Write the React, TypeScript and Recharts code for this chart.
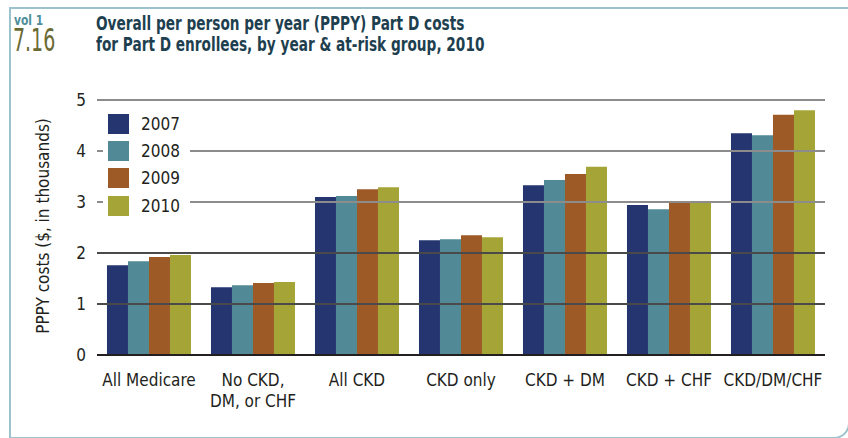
import { BarChart, Bar, XAxis, YAxis, ReferenceLine } from "recharts";

const groups = ["All Medicare", "No CKD,\nDM, or CHF", "All CKD", "CKD only", "CKD + DM", "CKD + CHF", "CKD/DM/CHF"];
const years = ["2007", "2008", "2009", "2010"];
const v2007 = [1.76, 1.33, 3.10, 2.25, 3.33, 2.94, 4.35];
const v2008 = [1.84, 1.37, 3.12, 2.27, 3.43, 2.86, 4.31];
const v2009 = [1.92, 1.41, 3.25, 2.35, 3.55, 3.00, 4.71];
const v2010 = [1.96, 1.43, 3.29, 2.31, 3.69, 3.02, 4.80];
const yTicks = [0, 1, 2, 3, 4, 5];

const colors = ["#25356f", "#518996", "#9e5a26", "#a5a437"];
const font = "'DejaVu Sans Condensed', 'Liberation Sans Narrow', sans-serif";

const data = groups.map((g, i) => ({
  group: g,
  "2007": v2007[i],
  "2008": v2008[i],
  "2009": v2009[i],
  "2010": v2010[i],
}));

function GroupTick(props: any) {
  const { x, y, payload } = props;
  const lines = String(payload.value).split("\n");
  return (
    <text x={x} y={y + 23} textAnchor="middle" fill="#231f20" fontSize={17} fontFamily={font}>
      {lines.map((l, i) => (
        <tspan key={i} x={x} dy={i === 0 ? 0 : 21}>{l}</tspan>
      ))}
    </text>
  );
}

export default function App() {
  return (
    <div style={{ position: "absolute", left: 0, top: 0, width: 848, height: 438, overflow: "hidden", background: "#fff" }}>
      <div style={{
        position: "absolute", left: 9, top: 7, width: 841, height: 432, boxSizing: "border-box",
        border: "2px solid #9cc3cc", borderBottomRightRadius: 16,
      }} />
      <div style={{
        position: "absolute", left: 14, top: 13, fontFamily: font, fontSize: 14, color: "#4f8f9c", lineHeight: "14px",
        transform: "scaleX(0.85)", transformOrigin: "left top", fontWeight: 600,
      }}>vol 1</div>
      <div style={{
        position: "absolute", left: 13, top: 24, fontFamily: font, fontSize: 32, color: "#6b6a35", lineHeight: "32px",
        transform: "scaleX(0.66)", transformOrigin: "left top",
      }}>7.16</div>
      <div style={{
        position: "absolute", left: 96, top: 13, fontFamily: font, fontWeight: 700, fontSize: 20, color: "#1e3f4f",
        lineHeight: "21px", whiteSpace: "nowrap", transform: "scaleX(0.76)", transformOrigin: "left top",
      }}>
        Overall per person per year (PPPY) Part D costs<br />
        for Part D enrollees, by year &amp; at-risk group, 2010
      </div>
      <div style={{
        position: "absolute", left: 43, top: 226, transform: "translate(-50%, -50%) rotate(-90deg)",
        whiteSpace: "nowrap", fontFamily: font, fontSize: 17, color: "#231f20",
      }}>
        PPPY costs ($, in thousands)
      </div>
      <div style={{ position: "absolute", left: 0, top: 0 }}>
        <BarChart width={848} height={438} data={data} barGap={0} barCategoryGap="9.6%"
          margin={{ top: 100, right: 23, left: 57, bottom: 0 }}>
          {yTicks.slice(1).map((t) => (
            <ReferenceLine key={t} y={t} stroke={t <= 2 ? "#4a4a4a" : "#8c8c8c"} strokeWidth={2} />
          ))}
          <XAxis dataKey="group" tick={<GroupTick />} interval={0} tickLine={false}
            axisLine={{ stroke: "#231f20", strokeWidth: 2 }} height={83} />
          <YAxis domain={[0, 5]} ticks={yTicks} width={40} axisLine={false} tickLine={false} tickMargin={5}
            tick={{ fontSize: 17, fill: "#231f20", fontFamily: font }} />
          {years.map((y, i) => (
            <Bar key={y} dataKey={y} fill={colors[i]} isAnimationActive={false} />
          ))}
        </BarChart>
      </div>
      <div style={{ position: "absolute", left: 103, top: 108, background: "#fff", padding: "2px 10px 2px 5px" }}>
        {years.map((y, i) => (
          <div key={y} style={{ display: "flex", alignItems: "center", height: 27.3 }}>
            <span style={{ width: 21, height: 20, background: colors[i], display: "inline-block" }} />
            <span style={{ marginLeft: 12, fontSize: 17, color: "#231f20", fontFamily: font }}>{y}</span>
          </div>
        ))}
      </div>
    </div>
  );
}
